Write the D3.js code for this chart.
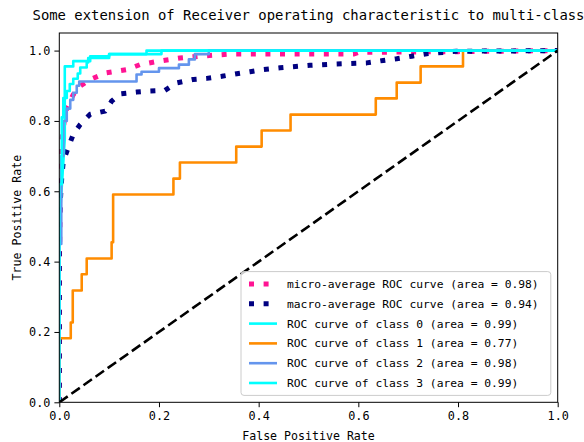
<!DOCTYPE html>
<html><head><meta charset="utf-8">
<script src="https://cdn.jsdelivr.net/npm/d3@7"></script>
<style>body{margin:0;background:#fff}svg{display:block}text{font-family:"DejaVu Sans Mono","Liberation Mono",monospace;fill:#000}</style>
</head><body><svg id="c" width="584" height="442"></svg>
<script>
const titleText = "Some extension of Receiver operating characteristic to multi-class";
const xTicks = [0, 0.2, 0.4, 0.6, 0.8, 1.0];
const yTicks = [0, 0.2, 0.4, 0.6, 0.8, 1.0];

const microFpr = [0,0,0.003,0.005,0.01,0.015,0.028,0.042,0.062,0.095,0.135,0.162,0.2,0.242,0.282,0.342,0.45,0.59,0.6,0.8,1];
const microTpr = [0,0.4,0.62,0.743,0.80,0.838,0.875,0.899,0.918,0.937,0.946,0.96,0.97,0.979,0.984,0.99,0.99,0.99,0.995,0.997,1];

const macroFpr = [0,0,0.003,0.005,0.008,0.018,0.028,0.042,0.062,0.092,0.105,0.122,0.155,0.182,0.212,0.235,0.269,0.296,0.326,0.356,0.383,0.409,0.443,0.503,0.556,0.617,0.65,0.677,0.707,0.737,0.797,1];
const macroTpr = [0,0.5,0.6,0.64,0.686,0.724,0.762,0.79,0.819,0.828,0.856,0.877,0.882,0.885,0.887,0.908,0.918,0.921,0.927,0.934,0.94,0.946,0.951,0.958,0.962,0.965,0.972,0.977,0.984,0.991,0.998,1];

const class0Fpr = [0,0,0.011,0.011,0.028,0.028,0.062,0.062,0.1,0.1,0.205,0.205,1];
const class0Tpr = [0,0.5,0.75,0.955,0.955,0.97,0.97,0.984,0.984,0.99,0.99,1,1];

const class1Fpr = [0,0,0.023,0.023,0.027,0.027,0.045,0.045,0.055,0.055,0.105,0.105,0.108,0.108,0.229,0.229,0.242,0.242,0.355,0.355,0.406,0.406,0.464,0.464,0.635,0.635,0.677,0.677,0.725,0.725,0.81,0.81,1];
const class1Tpr = [0,0.182,0.182,0.227,0.227,0.318,0.318,0.364,0.364,0.409,0.409,0.455,0.455,0.591,0.591,0.636,0.636,0.682,0.682,0.727,0.727,0.773,0.773,0.818,0.818,0.864,0.864,0.909,0.909,0.955,0.955,1,1];

const class2Fpr = [0,0,0.004,0.004,0.008,0.008,0.015,0.015,0.022,0.022,0.028,0.028,0.035,0.035,0.04,0.04,0.155,0.155,0.165,0.165,0.2,0.2,0.24,0.24,0.26,0.26,0.272,0.272,0.3,0.3,1];
const class2Tpr = [0,0.45,0.45,0.7,0.7,0.8,0.8,0.835,0.835,0.86,0.86,0.88,0.88,0.9,0.9,0.912,0.912,0.932,0.932,0.94,0.94,0.95,0.95,0.96,0.96,0.975,0.975,0.99,0.99,1,1];

const class3Fpr = [0,0,0.005,0.005,0.008,0.008,0.015,0.015,0.021,0.021,0.028,0.028,0.037,0.037,0.042,0.042,0.055,0.055,0.058,0.058,0.1,0.1,0.175,0.175,1];
const class3Tpr = [0,0.62,0.62,0.81,0.81,0.865,0.865,0.885,0.885,0.905,0.905,0.92,0.92,0.935,0.935,0.952,0.952,0.966,0.966,0.979,0.979,0.99,0.99,1,1];

const seriesLabels = [
  "micro-average ROC curve (area = 0.98)",
  "macro-average ROC curve (area = 0.94)",
  "ROC curve of class 0 (area = 0.99)",
  "ROC curve of class 1 (area = 0.77)",
  "ROC curve of class 2 (area = 0.98)",
  "ROC curve of class 3 (area = 0.99)"
];
const diagFpr = [0, 1];
const diagTpr = [0, 1];

const zip = (a, b) => a.map((v, i) => [v, b[i]]);
const series = [
  {label: seriesLabels[0], pts: zip(microFpr, microTpr), color: "#ff1493", w: 5, dash: "5,9.6"},
  {label: seriesLabels[1], pts: zip(macroFpr, macroTpr), color: "#000080", w: 5, dash: "5,9.6"},
  {label: seriesLabels[2], pts: zip(class0Fpr, class0Tpr), color: "#00ffff", w: 2.6, dash: null},
  {label: seriesLabels[3], pts: zip(class1Fpr, class1Tpr), color: "#ff8c00", w: 2.6, dash: null},
  {label: seriesLabels[4], pts: zip(class2Fpr, class2Tpr), color: "#6495ed", w: 2.6, dash: null},
  {label: seriesLabels[5], pts: zip(class3Fpr, class3Tpr), color: "#00ffff", w: 2.6, dash: null}
];

const svg = d3.select("#c");
const L = 59.3, R = 557.7, T = 33, B = 402.3;
const x = d3.scaleLinear().domain([0, 1]).range([L, R]);
const y = d3.scaleLinear().domain([0, 1.05]).range([B, T]);

svg.append("defs").append("clipPath").attr("id", "clip")
  .append("rect").attr("x", L).attr("y", T).attr("width", R - L).attr("height", B - T);

const line = d3.line().x(d => x(d[0])).y(d => y(d[1]));
const g = svg.append("g").attr("clip-path", "url(#clip)");
series.forEach(s => {
  g.append("path").datum(s.pts).attr("d", line).attr("fill", "none")
    .attr("stroke", s.color).attr("stroke-width", s.w)
    .attr("stroke-dasharray", s.dash).attr("stroke-linejoin", "round");
});
g.append("path").datum(zip(diagFpr, diagTpr)).attr("d", line).attr("fill", "none")
  .attr("stroke", "#000").attr("stroke-width", 2.6).attr("stroke-dasharray", "10.3,4.5");

// axes
const xAxis = d3.axisBottom(x).tickValues(xTicks).tickFormat(d3.format(".1f")).tickSizeOuter(0).tickSize(4.9).tickPadding(4);
const yAxis = d3.axisLeft(y).tickValues(yTicks).tickFormat(d3.format(".1f")).tickSizeOuter(0).tickSize(4.9).tickPadding(4);
const gx = svg.append("g").attr("transform", `translate(0,${B})`).call(xAxis);
const gy = svg.append("g").attr("transform", `translate(${L},0)`).call(yAxis);
[gx, gy].forEach(a => {
  a.select(".domain").remove();
  a.selectAll("line").attr("stroke", "#000").attr("stroke-width", 1);
  a.selectAll("text").attr("font-size", 11.8).attr("font-family", "DejaVu Sans Mono").attr("fill", "#000");
});
svg.append("rect").attr("x", L).attr("y", T).attr("width", R - L).attr("height", B - T)
  .attr("fill", "none").attr("stroke", "#000").attr("stroke-width", 1);

// labels
svg.append("text").attr("x", (L + R) / 2).attr("y", 20).attr("text-anchor", "middle")
  .attr("font-size", 13.9).text(titleText);
svg.append("text").attr("x", (L + R) / 2).attr("y", 440).attr("text-anchor", "middle")
  .attr("font-size", 11.6).text("False Positive Rate");
svg.append("text").attr("transform", `translate(21,${(T + B) / 2}) rotate(-90)`).attr("text-anchor", "middle")
  .attr("font-size", 11.6).text("True Positive Rate");

// legend
const lgR = 550.8, lgB = 395.4, lgL = 241, rowH = 19.8;
const lgT = lgB - 6 * rowH - 5;
const leg = svg.append("g");
leg.append("rect").attr("x", lgL).attr("y", lgT).attr("width", lgR - lgL).attr("height", lgB - lgT)
  .attr("rx", 3).attr("fill", "#fff").attr("fill-opacity", 0.8).attr("stroke", "#cccccc").attr("stroke-width", 1);
series.forEach((s, i) => {
  const cy = lgT + 12.4 + i * rowH;
  leg.append("line").attr("x1", 249).attr("x2", 277).attr("y1", cy).attr("y2", cy)
    .attr("stroke", s.color).attr("stroke-width", s.w).attr("stroke-dasharray", s.dash);
  leg.append("text").attr("x", 287).attr("y", cy).attr("dy", "0.35em").attr("font-size", 11.3).text(s.label);
});
</script></body></html>
